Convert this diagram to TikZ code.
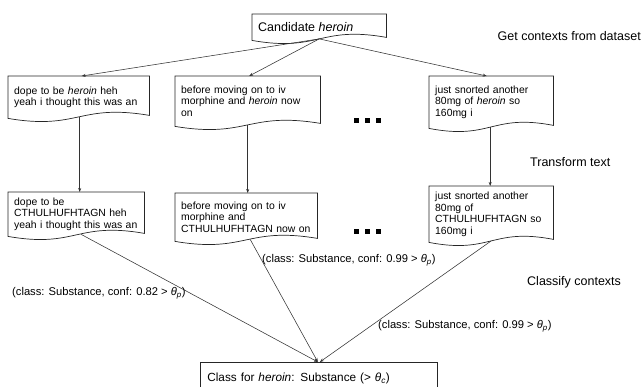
\documentclass[tikz,border=0pt]{standalone}
\usepackage{fontspec}
\setmainfont{Liberation Sans}
\usetikzlibrary{arrows.meta,calc}

\tikzset{
  ctx/.style={font=\fontsize{10.4}{11.5}\selectfont, align=left, inner xsep=6pt, inner ysep=1pt, anchor=north west},
  boxline/.style={draw=black!85, line width=0.7pt},
  conn/.style={draw=black!80, line width=0.55pt, -{Stealth[length=4pt,width=3pt]}},
  stage/.style={font=\fontsize{12.5}{15}\selectfont, inner sep=0pt},
  elabel/.style={font=\fontsize{11.2}{14}\selectfont, inner sep=0pt},
  dot/.style={fill=black, draw=none},
}

\newcommand{\docbox}[6]{%
  \pgfmathsetmacro{\dbhalf}{#4/2}%
  \pgfmathsetmacro{\dbtw}{#4-12}%
  \node[ctx, minimum width=#4pt, minimum height=#5pt, text width=\dbtw pt] (#1) at (#2,#3) {#6};
  \draw[boxline] (#1.north west) -- (#1.north east) -- ([yshift=3pt]#1.south east)
    .. controls +(-\dbhalf,-12) and +(\dbhalf,12) .. (#1.south west) -- cycle;
}
\newcommand{\thp}{\textit{θ}\textsubscript{\textit{p}}}
\newcommand{\txln}[1]{\mbox{#1}}

\begin{document}
\begin{tikzpicture}[x=1pt,y=-1pt]
\useasboundingbox (0,0) rectangle (641,387);

\docbox{cand}{252}{14}{134}{26}{\fontsize{12.5}{15}\selectfont Candidate \textit{heroin}}

\docbox{l1}{8}{76}{141}{42}{\txln{dope to be \textit{heroin} heh}\\\txln{yeah i thought this was an}}
\docbox{m1}{175}{76}{145}{50}{\txln{before moving on to iv}\\\txln{morphine and \textit{heroin} now}\\\txln{on}}
\docbox{r1}{429}{76}{124}{52}{\txln{just snorted another}\\\txln{80mg of \textit{heroin} so}\\\txln{160mg i}}

\docbox{l2}{8}{192}{136}{44}{\txln{dope to be}\\\txln{CTHULHUFHTAGN heh}\\\txln{yeah i thought this was an}}
\docbox{m2}{175}{193}{142}{48}{\txln{before moving on to iv}\\\txln{morphine and}\\\txln{CTHULHUFHTAGN now on}}
\docbox{r2}{429}{186}{124}{56}{\txln{just snorted another}\\\txln{80mg of}\\\txln{CTHULHUFHTAGN so}\\\txln{160mg i}}

\node[draw=black!85, line width=0.7pt, anchor=north west, minimum width=237pt, minimum height=32pt, inner xsep=7pt, align=left, text width=223pt, font=\fontsize{11.8}{14}\selectfont] (cls) at (200,362)
  {Class for \textit{heroin}: Substance (> \textit{θ}\textsubscript{\textit{c}})};

% stage labels
\node[stage, anchor=east] (s1) at (641,36) {Get contexts from dataset};
\node[stage, anchor=west] (s2) at (530,162) {Transform text};
\node[stage, anchor=west] (s3) at (527,282) {Classify contexts};

% ellipsis dots
\foreach \yy in {121,232}{
  \foreach \xx in {356,367,378}{
    \fill[dot] (\xx-2.5,\yy-2.5) rectangle (\xx+2.5,\yy+2.5);
  }
}

% connectors
\draw[conn] ([yshift=1.5pt]cand.south) -- ([xshift=3pt]l1.north);
\draw[conn] ([yshift=1.5pt]cand.south) -- ([xshift=1.5pt]m1.north);
\draw[conn] ([yshift=1.5pt]cand.south) -- ([xshift=-4.5pt]r1.north);

\draw[conn] ([xshift=1pt,yshift=1.5pt]l1.south) -- ([xshift=1pt]l1.south |- l2.north);
\draw[conn] ([yshift=1.5pt]m1.south) -- (m1.south |- m2.north);
\draw[conn] ([xshift=-1pt,yshift=1.5pt]r1.south) -- ([xshift=-1pt]r1.south |- r2.north);

\draw[conn] ([xshift=5pt,yshift=2pt]l2.south) -- ([xshift=-1pt]cls.north);
\draw[conn] ([xshift=4pt,yshift=2pt]m2.south) -- ([xshift=-1pt]cls.north);
\draw[conn] ([yshift=1.5pt]r2.south) -- ([xshift=1pt]cls.north);

\node[elabel, anchor=west] (e1) at (12,293) {(class: Substance, conf: 0.82 > \thp)};
\node[elabel, anchor=west] (e2) at (262,260) {(class: Substance, conf: 0.99 > \thp)};
\node[elabel, anchor=west] (e3) at (378,326) {(class: Substance, conf: 0.99 > \thp)};
\end{tikzpicture}
\end{document}
